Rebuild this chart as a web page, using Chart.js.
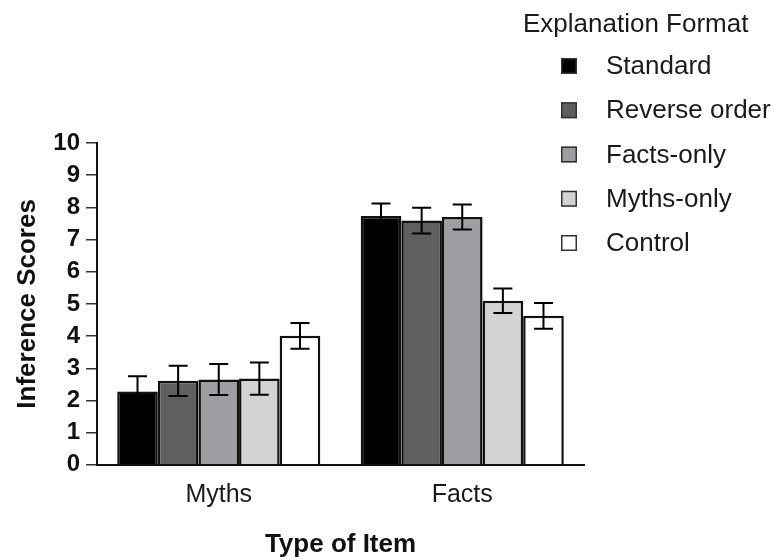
<!DOCTYPE html>
<html>
<head>
<meta charset="utf-8">
<title>Inference Scores</title>
<script src="https://cdn.jsdelivr.net/npm/chart.js@4.4.1/dist/chart.umd.min.js"></script>
<style>
  body { margin: 0; background: #fff; }
  canvas { display: block; }
</style>
</head>
<body>
<canvas id="chart" width="779" height="560"></canvas>
<script>
// Adatok
const categories = ['Myths', 'Facts'];
const seriesNames = ['Standard', 'Reverse order', 'Facts-only', 'Myths-only', 'Control'];
const seriesColors = ['#000000', '#5f5f5f', '#9e9ea2', '#d3d3d3', '#ffffff'];
const standardMeans = [2.28, 7.73];
const reverseMeans = [2.61, 7.59];
const factsOnlyMeans = [2.65, 7.70];
const mythsOnlyMeans = [2.68, 5.10];
const controlMeans = [4.01, 4.63];
const standardErr = [0.47, 0.39];
const reverseErr = [0.47, 0.40];
const factsOnlyErr = [0.48, 0.39];
const mythsOnlyErr = [0.50, 0.38];
const controlErr = [0.40, 0.40];
const yTicks = [0, 1, 2, 3, 4, 5, 6, 7, 8, 9, 10];

const FONT = '"Liberation Sans", Arial, sans-serif';
const allMeans = [standardMeans, reverseMeans, factsOnlyMeans, mythsOnlyMeans, controlMeans];
const allErr = [standardErr, reverseErr, factsOnlyErr, mythsOnlyErr, controlErr];

// Hibasávok rajzolása
const errorBars = {
    id: 'errorBars',
    afterDatasetsDraw(chart) {
        const ctx = chart.ctx;
        const y = chart.scales.y;
        ctx.save();
        ctx.strokeStyle = '#000';
        ctx.lineWidth = 2;
        chart.data.datasets.forEach((ds, i) => {
            const meta = chart.getDatasetMeta(i);
            meta.data.forEach((bar, j) => {
                const m = ds.data[j];
                const e = ds.err[j];
                const top = y.getPixelForValue(m + e);
                const bot = y.getPixelForValue(m - e);
                const x = bar.x;
                const half = 9.5;
                ctx.beginPath();
                ctx.moveTo(x, top); ctx.lineTo(x, bot);
                ctx.moveTo(x - half, top); ctx.lineTo(x + half, top);
                ctx.moveTo(x - half, bot); ctx.lineTo(x + half, bot);
                ctx.stroke();
            });
        });
        ctx.restore();
    }
};

// Saját jelmagyarázat
const sideLegend = {
    id: 'sideLegend',
    afterDraw(chart) {
        const ctx = chart.ctx;
        ctx.save();
        ctx.fillStyle = '#1a1a1a';
        ctx.textBaseline = 'middle';
        ctx.textAlign = 'left';
        ctx.font = '26px ' + FONT;
        ctx.fillText('Explanation Format', 523, 25);
        chart.data.datasets.forEach((ds, i) => {
            const cy = 66 + i * 44.25;
            ctx.fillStyle = ds.backgroundColor;
            ctx.fillRect(561, cy - 8, 16, 16);
            ctx.strokeStyle = '#333';
            ctx.lineWidth = 1.5;
            ctx.strokeRect(561.75, cy - 7.25, 14.5, 14.5);
            ctx.fillStyle = '#1a1a1a';
            ctx.fillText(ds.label, 606, cy + 1);
        });
        ctx.restore();
    }
};

const ctx = document.getElementById('chart').getContext('2d');
new Chart(ctx, {
    type: 'bar',
    data: {
        labels: categories,
        datasets: seriesNames.map((name, i) => ({
            label: name,
            data: allMeans[i],
            err: allErr[i],
            backgroundColor: seriesColors[i],
            borderColor: '#111',
            borderWidth: 2.5,
            categoryPercentage: 0.834,
            barPercentage: 1.0
        }))
    },
    options: {
        responsive: false,
        animation: false,
        layout: { padding: { top: 143, right: 195, left: 0, bottom: 0 } },
        plugins: {
            legend: { display: false },
            tooltip: { enabled: false }
        },
        scales: {
            x: {
                grid: { display: false, drawTicks: false },
                border: { display: true, color: '#111', width: 2 },
                ticks: { color: '#1a1a1a', padding: 15, font: { family: FONT, size: 25 } },
                title: {
                    display: true, text: 'Type of Item', color: '#111',
                    padding: { top: 4, bottom: 0 },
                    font: { family: FONT, size: 26, weight: 'bold' }
                }
            },
            y: {
                min: 0,
                max: 10,
                afterBuildTicks(scale) {
                    scale.ticks = yTicks.map(v => ({ value: v }));
                },
                afterFit(scale) { scale.width = 97; },
                grid: {
                    display: true, drawOnChartArea: false, drawTicks: true,
                    tickLength: 11, color: '#333', lineWidth: 1.5
                },
                border: { display: true, color: '#111', width: 2 },
                ticks: { color: '#111', padding: 6, font: { family: FONT, size: 24, weight: 'bold' } },
                title: {
                    display: true, text: 'Inference Scores', color: '#111',
                    padding: { top: 12, bottom: 0 },
                    font: { family: FONT, size: 26, weight: 'bold' }
                }
            }
        }
    },
    plugins: [errorBars, sideLegend]
});
</script>
</body>
</html>
